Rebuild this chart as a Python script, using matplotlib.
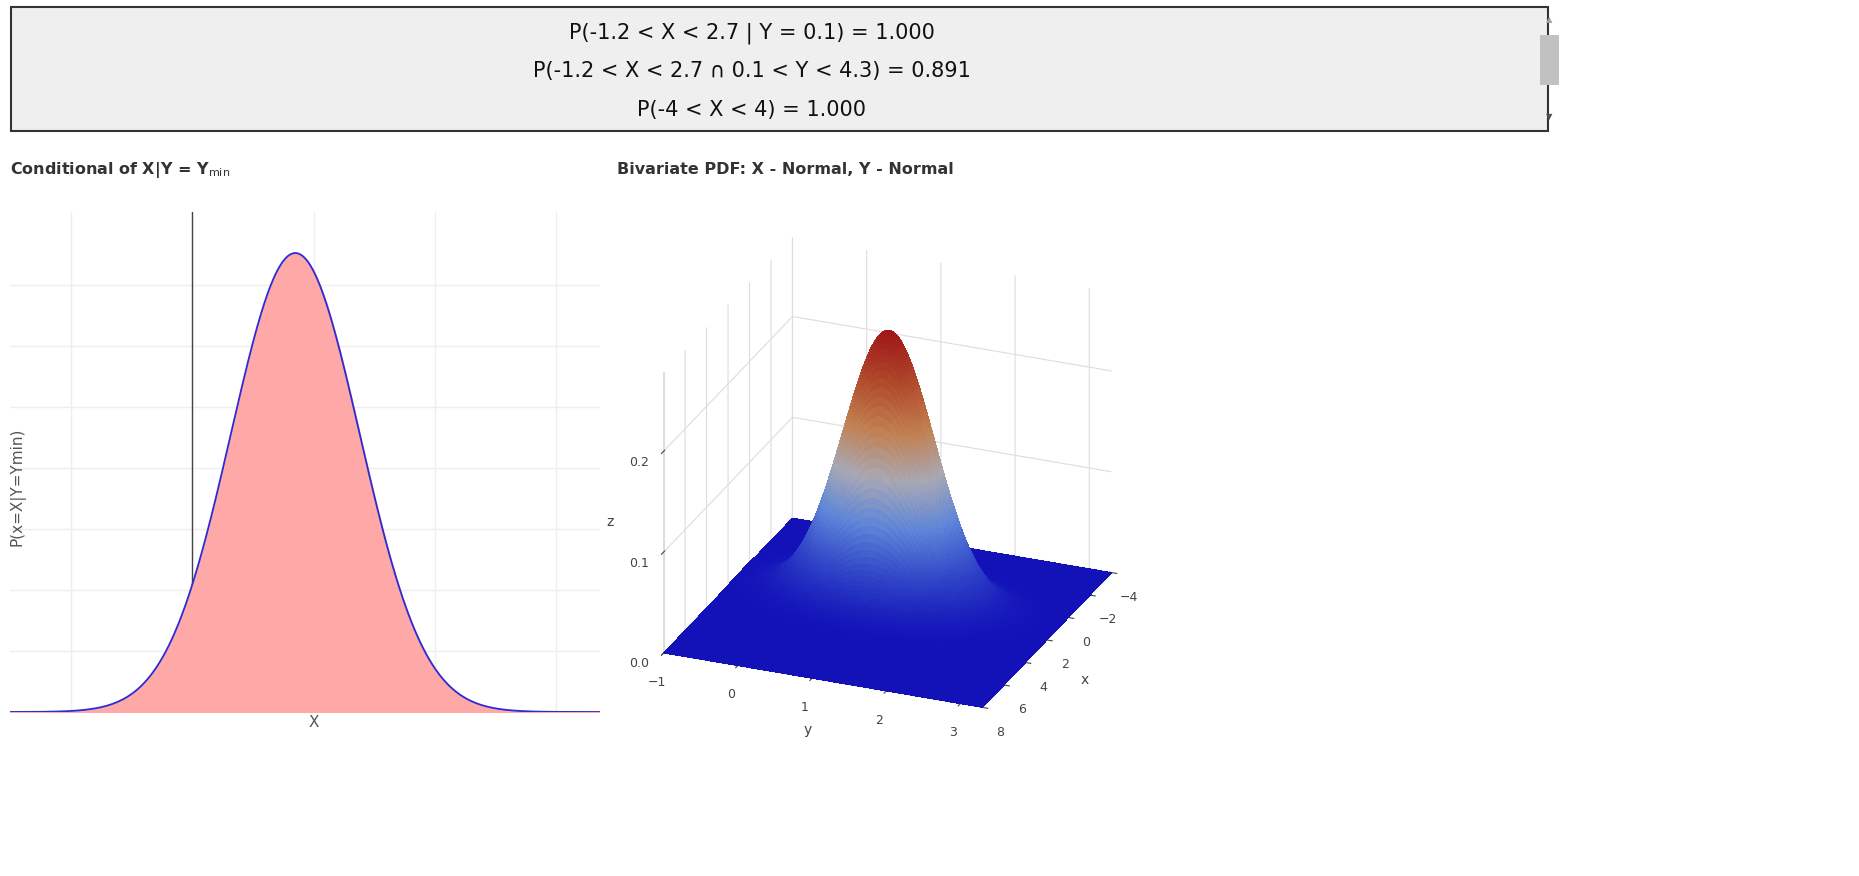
import numpy as np
import matplotlib.pyplot as plt
from matplotlib.colors import LinearSegmentedColormap
from matplotlib.patches import Rectangle

# numbers shown in the top box
prob_lines = ["P(-1.2 < X < 2.7 | Y = 0.1) = 1.000",
              "P(-1.2 < X < 2.7 \u2229 0.1 < Y < 4.3) = 0.891",
              "P(-4 < X < 4) = 1.000"]

# conditional X|Y=Ymin parameters
cond_mu = 0.85
cond_sigma = 0.53

# bivariate parameters
mu_x = 0.85
sigma_x = 1.0
mu_y = 1.0
sigma_y = 0.6

# conditional plot ranges / grid
cond_xlim = [-1.5, 3.5]
cond_xticks = [-1, 0, 1, 2, 3]
cond_ytop = 0.82

# 3d axes ranges
x3_range = [-4, 8]
y3_range = [-1, 3.3]
x3_ticks = [-4, -2, 0, 2, 4, 6, 8]
y3_ticks = [-1, 0, 1, 2, 3]
z3_ticks = [0, 0.1, 0.2]

W, H = 1859, 876
fig = plt.figure(figsize=(W / 100, H / 100), dpi=100)

# top box with the probabilities
box = fig.add_axes([0, 0, 1, 1], zorder=-1)
box.set_xlim(0, W)
box.set_ylim(H, 0)
box.axis("off")
box.add_patch(Rectangle((11, 7), 1537, 124, facecolor="#efefef", edgecolor="#333333", lw=1.5))
box.add_patch(Rectangle((1540, 35), 19, 50, facecolor="#c1c1c1", edgecolor="none"))
box.text(1549, 20, "\u25b2", fontsize=6, color="#a0a0a0", ha="center", va="center")
box.text(1549, 117, "\u25bc", fontsize=6, color="#505050", ha="center", va="center")
for i, s in enumerate(prob_lines):
    box.text(752, 33 + i * 38.5, s, fontsize=15, ha="center", va="center", color="#111111")
box.text(10, 170, "Conditional of X|Y = Y$_{\\mathrm{min}}$", fontsize=11.5, fontweight="bold",
         color="#333333", va="center")
box.text(617, 170, "Bivariate PDF: X - Normal, Y - Normal", fontsize=11.5, fontweight="bold",
         color="#333333", va="center")

# conditional pdf
ax = fig.add_axes([10 / W, 1 - 712 / H, 607 / W, 500 / H])
xs = np.linspace(cond_xlim[0], cond_xlim[1], 600)
pdf = np.exp(-0.5 * ((xs - cond_mu) / cond_sigma) ** 2) / (cond_sigma * np.sqrt(2 * np.pi))
ax.set_axisbelow(True)
ax.fill_between(xs, 0, pdf, color="#ffa8a8", zorder=2)
ax.plot(xs, pdf, color="#2b2bd8", lw=1.3, zorder=3)
ax.set_xlim(cond_xlim)
ax.set_ylim(0, cond_ytop)
ax.set_xticks(cond_xticks)
ax.set_yticks(np.arange(0.1, 0.8, 0.1))
ax.grid(color="#eeeeee", lw=1)
ax.axvline(0, color="#444444", lw=1, zorder=1)
ax.tick_params(length=0, labelbottom=False, labelleft=False)
for sp in ax.spines.values():
    sp.set_visible(False)
ax.set_xlabel("X", color="#555555", fontsize=11, labelpad=2)
ax.set_ylabel("P(x=X|Y=Ymin)", color="#555555", fontsize=11)
ax.yaxis.set_label_coords(0.025, 0.45)

# bivariate surface
cmap = LinearSegmentedColormap.from_list("bluered", ["#1212b8", "#3046c8", "#5d85d8", "#a8a8b4",
                                                     "#c28050", "#b04a2c", "#a01818"])
ax3 = fig.add_axes([600 / W, 1 - 760 / H, 560 / W, 560 / H], projection="3d")
gx = np.linspace(x3_range[0], x3_range[1], 200)
gy = np.linspace(y3_range[0], y3_range[1], 150)
GX, GY = np.meshgrid(gx, gy)
Z = np.exp(-0.5 * (((GX - mu_x) / sigma_x) ** 2 + ((GY - mu_y) / sigma_y) ** 2)) / (2 * np.pi * sigma_x * sigma_y)
ax3.plot_surface(GX, GY, Z, cmap=cmap, rstride=1, cstride=1, linewidth=0, antialiased=False)
ax3.set_proj_type("ortho")
ax3.view_init(elev=25, azim=22)
ax3.set_xlim(x3_range)
ax3.set_ylim(y3_range)
ax3.set_zlim(0, Z.max() * 1.05)
ax3.set_xticks(x3_ticks)
ax3.set_yticks(y3_ticks)
ax3.set_zticks(z3_ticks)
ax3.set_xlabel("x", color="#444444")
ax3.set_ylabel("y", color="#444444")
ax3.set_zlabel("z", color="#444444")
ax3.tick_params(labelsize=9, colors="#444444")
for a in (ax3.xaxis, ax3.yaxis, ax3.zaxis):
    a.set_pane_color((1, 1, 1, 0))
    a._axinfo["grid"]["color"] = "#dddddd"
    a.line.set_color("#dddddd")
ax3.set_box_aspect((1, 1, 0.9))

fig.savefig("out.png", dpi=100)
